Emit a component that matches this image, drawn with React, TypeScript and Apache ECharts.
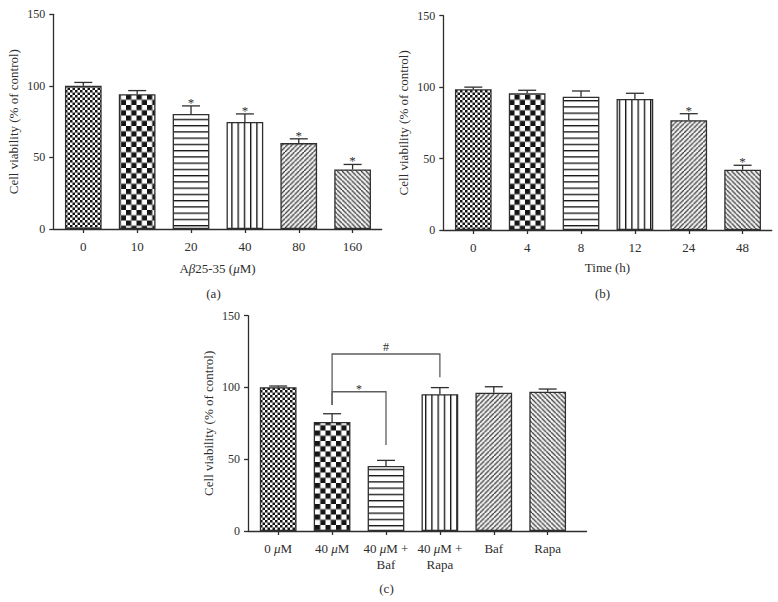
import React, { useEffect, useRef } from 'react';
import * as echarts from 'echarts';

const FONT = '"Liberation Serif", "Times New Roman", serif';
const INK = '#2e2e2e';

// ---- Panel (a): dose response ----
const doseCategories = ['0', '10', '20', '40', '80', '160'];
const doseMeans = [100, 94.1, 80.4, 74.8, 60.0, 41.6];
const doseErrorTops = [102.4, 96.7, 86.0, 80.4, 63.0, 45.1];
const doseStars = [0, 0, 1, 1, 1, 1];

// ---- Panel (b): time course ----
const timeCategories = ['0', '4', '8', '12', '24', '48'];
const timeMeans = [98.5, 95.7, 93.3, 91.7, 76.8, 42.2];
const timeErrorTops = [100.0, 97.8, 97.3, 95.7, 81.4, 45.3];
const timeStars = [0, 0, 0, 0, 1, 1];

// ---- Panel (c): treatments ----
const treatmentCategories = ['0 {i|μ}M', '40 {i|μ}M', '40 {i|μ}M +\nBaf', '40 {i|μ}M +\nRapa', 'Baf', 'Rapa'];
const treatmentMeans = [100.2, 75.9, 45.3, 95.3, 96.4, 97.1];
const treatmentErrorTops = [101.0, 81.7, 49.2, 99.9, 100.5, 98.9];
const treatmentStars = [0, 0, 0, 0, 0, 0];

// significance brackets in panel (c)
const bracketFrom = [1, 1];
const bracketTo = [3, 2];
const bracketLeftEnd = [87.8, 87.8];
const bracketTop = [123.3, 97.0];
const bracketRightEnd = [107.1, 59.9];
const bracketMarks = ['#', '*'];

const yTickValues = [0, 50, 100, 150];
const yTitle = 'Cell viability (% of control)';
const xTitles = ['A{i|β}25-35 ({i|μ}M)', 'Time (h)', ''];
const panelLetters = ['(a)', '(b)', '(c)'];
const barPatterns = ['fineChecker', 'coarseChecker', 'horizontal', 'vertical', 'diagonalUp', 'diagonalDown'];

const panelLayouts = [
  { left: 53.3, top: 14.3, width: 328.4, height: 214.7, xMin: -0.557, xMax: 5.54, nameGap: 31 },
  { left: 443.3, top: 15.7, width: 328.4, height: 214.3, xMin: -0.557, xMax: 5.54, nameGap: 31 },
  { left: 248, top: 315.7, width: 338.5, height: 215.3, xMin: -0.56, xMax: 5.72, nameGap: 31 },
];
const letterPositions = [[213.5, 293], [602.5, 293], [386.5, 588]];

const SS = 4;
const patternSizes: Record<string, number> = {
  fineChecker: 5,
  coarseChecker: 10.5,
  horizontal: 6.25,
  vertical: 6.25,
  diagonalUp: 4.75,
  diagonalDown: 4.75,
};

function makePattern(kind: string) {
  const size = patternSizes[kind];
  const canvas = document.createElement('canvas');
  canvas.width = Math.round(size * SS);
  canvas.height = Math.round(size * SS);
  const ctx = canvas.getContext('2d')!;
  ctx.scale(SS, SS);
  ctx.fillStyle = '#ffffff';
  ctx.fillRect(0, 0, size, size);
  ctx.fillStyle = '#141414';
  ctx.strokeStyle = '#141414';
  const h = size / 2;
  switch (kind) {
    case 'fineChecker':
    case 'coarseChecker':
      ctx.fillRect(0, 0, h, h);
      ctx.fillRect(h, h, h, h);
      break;
    case 'horizontal':
      ctx.fillRect(0, 0, size, 1.4);
      break;
    case 'vertical':
      ctx.fillRect(0, 0, 1.4, size);
      break;
    case 'diagonalUp':
      ctx.lineWidth = 1.1;
      for (let k = 0; k <= 2; k++) {
        const c = k * size;
        ctx.beginPath();
        ctx.moveTo(c + 1, -1);
        ctx.lineTo(c - size - 1, size + 1);
        ctx.stroke();
      }
      break;
    case 'diagonalDown':
      ctx.lineWidth = 1.1;
      for (let k = -1; k <= 1; k++) {
        const c = k * size;
        ctx.beginPath();
        ctx.moveTo(c - 1, -1);
        ctx.lineTo(c + size + 1, size + 1);
        ctx.stroke();
      }
      break;
  }
  return { image: canvas.toDataURL(), repeat: 'repeat', imageWidth: size, imageHeight: size };
}

const richItalic = { i: { fontStyle: 'italic', fontFamily: FONT, fontSize: 13, color: INK, lineHeight: 16.5 } };

function buildOption() {
  const patterns = barPatterns.map(makePattern);
  const panels = [
    { cats: doseCategories, means: doseMeans, tops: doseErrorTops, stars: doseStars },
    { cats: timeCategories, means: timeMeans, tops: timeErrorTops, stars: timeStars },
    { cats: treatmentCategories, means: treatmentMeans, tops: treatmentErrorTops, stars: treatmentStars },
  ];
  const lineStyle = { color: INK, width: 1.3 };

  const grid = panelLayouts.map((l) => ({ left: l.left, top: l.top, width: l.width, height: l.height }));
  const xAxis = panels.map((p, k) => {
    const idx = p.cats.map((_, i) => i);
    return {
      type: 'value',
      gridIndex: k,
      min: panelLayouts[k].xMin,
      max: panelLayouts[k].xMax,
      splitLine: { show: false },
      axisLine: { show: true, onZero: false, lineStyle },
      axisTick: { show: true, length: 4, customValues: idx, lineStyle },
      axisLabel: {
        customValues: idx,
        formatter: (v: number) => p.cats[Math.round(v)],
        margin: 9,
        color: INK,
        fontFamily: FONT,
        fontSize: 13,
        lineHeight: 16.5,
        rich: richItalic,
      },
      name: xTitles[k],
      nameLocation: 'middle',
      nameGap: panelLayouts[k].nameGap,
      nameTextStyle: { color: INK, fontFamily: FONT, fontSize: 13, rich: richItalic },
    };
  });
  const yAxis = panels.map((_, k) => ({
    type: 'value',
    gridIndex: k,
    min: 0,
    max: 150,
    splitLine: { show: false },
    axisLine: { show: true, onZero: false, lineStyle },
    axisTick: { show: true, length: 4, customValues: yTickValues, lineStyle },
    axisLabel: { customValues: yTickValues, margin: 8, color: INK, fontFamily: FONT, fontSize: 12 },
    name: yTitle,
    nameLocation: 'middle',
    nameGap: 33,
    nameTextStyle: { color: INK, fontFamily: FONT, fontSize: 13 },
  }));

  const series: any[] = [];
  panels.forEach((p, k) => {
    series.push({
      type: 'bar',
      xAxisIndex: k,
      yAxisIndex: k,
      barWidth: 36.7,
      silent: true,
      itemStyle: { borderColor: INK, borderWidth: 1.3 },
      data: p.means.map((m, i) => ({ value: [i, m], itemStyle: { color: patterns[i] } })),
    });
    series.push({
      type: 'custom',
      xAxisIndex: k,
      yAxisIndex: k,
      silent: true,
      z: 5,
      itemStyle: { color: INK },
      data: p.means.map((m, i) => [i, m, p.tops[i], p.stars[i]]),
      renderItem: (params: any, api: any) => {
        const x = api.value(0);
        const lo = api.coord([x, api.value(1)]);
        const hi = api.coord([x, api.value(2)]);
        const half = 9;
        const st = { stroke: INK, lineWidth: 1.3 };
        const children: any[] = [
          { type: 'line', shape: { x1: lo[0], y1: lo[1], x2: hi[0], y2: hi[1] }, style: st },
          { type: 'line', shape: { x1: hi[0] - half, y1: hi[1], x2: hi[0] + half, y2: hi[1] }, style: st },
        ];
        if (api.value(3)) {
          children.push({
            type: 'text',
            x: hi[0],
            y: hi[1] - 3.5,
            style: { text: '*', fill: INK, fontFamily: FONT, fontSize: 13, align: 'center', verticalAlign: 'middle' },
          });
        }
        return { type: 'group', children };
      },
    });
  });

  series.push({
    type: 'custom',
    xAxisIndex: 2,
    yAxisIndex: 2,
    silent: true,
    z: 6,
    itemStyle: { color: INK },
    data: bracketFrom.map((f, i) => [f, bracketTo[i], bracketLeftEnd[i], bracketTop[i], bracketRightEnd[i]]),
    renderItem: (params: any, api: any) => {
      const a = api.value(0);
      const b = api.value(1);
      const p1 = api.coord([a, api.value(2)]);
      const p2 = api.coord([a, api.value(3)]);
      const p3 = api.coord([b, api.value(3)]);
      const p4 = api.coord([b, api.value(4)]);
      const mark = bracketMarks[params.dataIndex];
      const off = mark === '*' ? 3 : 7.3;
      return {
        type: 'group',
        children: [
          { type: 'polyline', shape: { points: [p1, p2, p3, p4] }, style: { stroke: '#5e5e5e', lineWidth: 1.3, fill: null } },
          {
            type: 'text',
            x: (p2[0] + p3[0]) / 2,
            y: p2[1] - off,
            style: { text: mark, fill: INK, fontFamily: FONT, fontSize: 12, align: 'center', verticalAlign: 'middle' },
          },
        ],
      };
    },
  });

  const graphic = panelLetters.map((t, i) => ({
    type: 'text',
    x: letterPositions[i][0],
    y: letterPositions[i][1],
    style: { text: t, fill: INK, fontFamily: FONT, fontSize: 13, align: 'center', verticalAlign: 'middle' },
  }));

  return {
    animation: false,
    backgroundColor: '#ffffff',
    grid,
    xAxis,
    yAxis,
    series,
    graphic,
  };
}

export default function App() {
  const ref = useRef<HTMLDivElement>(null);
  useEffect(() => {
    if (!ref.current) return;
    const chart = echarts.init(ref.current, undefined, { renderer: 'svg' });
    chart.setOption(buildOption() as any);
    return () => chart.dispose();
  }, []);
  return (
    <div
      ref={ref}
      style={{ position: 'fixed', left: 0, top: 0, width: 778, height: 602, background: '#fff' }}
    />
  );
}
